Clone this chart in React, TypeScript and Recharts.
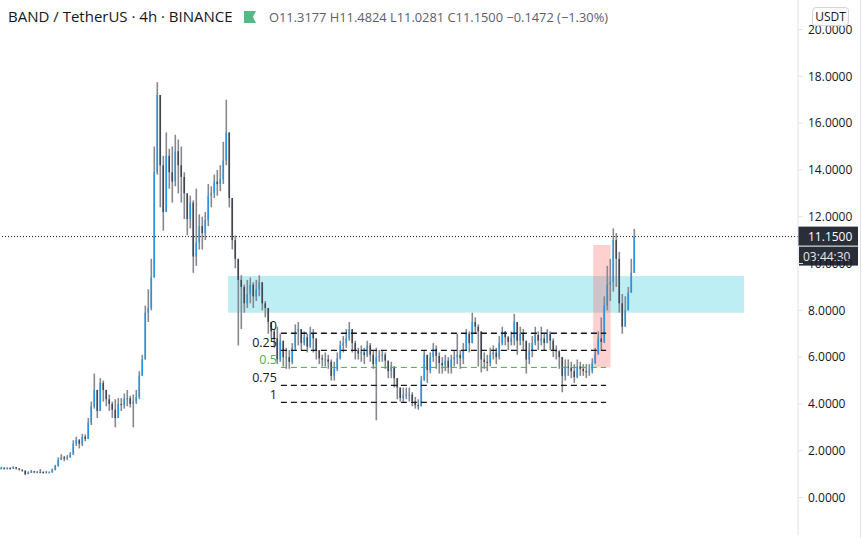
import React from "react"
import {
  ComposedChart, Bar,
  XAxis, YAxis,
  ReferenceArea, ReferenceLine
} from "recharts"

// 4h candles, one every 3px of the picture
const closes = [
  1.27,1.25,1.26,1.24,1.30,1.24,1.20,1.15,1.00,1.06,
  1.12,1.08,1.10,1.09,1.07,1.08,1.08,1.18,1.35,1.62,
  1.72,1.66,1.72,1.85,2.30,2.45,2.30,2.60,2.50,3.20,
  3.90,4.60,3.70,4.90,4.60,4.20,4.00,3.75,3.40,4.00,
  3.95,4.20,4.25,4.00,4.10,4.30,5.20,5.90,7.90,8.10,
  9.40,13.90,17.20,14.20,12.20,14.60,13.90,13.50,14.80,14.20,
  13.70,13.00,11.90,12.60,10.30,10.90,11.60,11.30,11.85,12.90,
  13.00,13.50,13.40,13.60,14.40,15.60,12.80,11.00,10.20,9.30,
  9.00,8.30,8.70,9.10,8.60,8.90,9.20,8.30,8.10,7.50,
  7.10,6.80,5.90,6.70,6.00,6.00,5.80,6.40,7.10,7.20,
  6.60,6.85,6.45,7.00,6.80,6.30,5.95,5.90,5.90,5.80,
  5.20,5.50,5.95,6.50,6.60,6.80,7.20,6.60,6.30,6.15,
  6.20,6.10,6.50,6.10,5.70,6.00,6.05,6.10,5.85,5.40,
  5.60,5.10,4.70,4.25,4.40,4.40,4.40,4.10,3.95,3.90,
  5.00,6.10,5.45,6.00,6.35,6.05,5.75,5.65,5.85,5.55,
  5.90,6.00,6.10,5.95,6.30,7.00,6.60,7.50,7.30,7.10,
  5.90,5.80,5.75,6.10,6.20,6.00,6.60,7.10,6.85,6.65,
  6.80,7.50,6.70,7.00,6.70,5.90,6.30,6.60,6.95,6.70,
  6.80,6.60,7.00,6.70,6.30,6.25,6.00,5.20,5.60,5.55,
  5.40,5.15,5.60,5.50,5.40,5.35,5.40,5.75,6.15,6.80,
  6.65,8.20,9.10,9.20,11.00,10.20,8.30,7.30,8.00,8.75,
  9.60,11.15
]

const highs = [
  1.32,1.30,1.30,1.30,1.34,1.30,1.26,1.20,1.16,1.12,
  1.18,1.14,1.14,1.22,1.12,1.14,1.12,1.24,1.40,1.72,
  1.85,1.78,1.82,1.95,2.45,2.60,2.50,2.72,2.70,3.40,
  4.10,5.30,4.60,5.10,5.00,4.60,4.40,4.10,4.20,4.25,
  4.25,4.45,4.60,4.35,4.40,4.60,5.40,6.10,8.20,8.90,
  10.20,15.00,17.75,15.60,14.60,15.60,14.90,15.00,15.50,15.30,
  15.00,13.90,13.00,12.90,12.70,13.20,12.10,12.00,12.20,13.40,
  13.30,13.80,14.00,14.20,15.20,17.00,14.70,12.80,11.20,10.00,
  9.50,9.10,9.30,9.40,9.20,9.30,9.50,9.20,8.40,8.00,
  7.50,7.20,7.30,7.00,6.60,6.40,6.30,6.60,7.40,7.50,
  7.20,7.10,7.00,7.30,7.20,6.80,6.30,6.10,6.20,6.10,
  5.90,5.80,6.20,6.70,6.90,7.20,7.50,7.10,6.70,6.40,
  6.50,6.40,6.70,6.60,6.30,6.40,6.30,6.30,6.20,5.70,
  5.80,5.60,5.10,4.70,4.70,4.70,4.70,4.50,4.30,4.20,
  5.20,6.30,6.10,6.20,6.60,6.50,6.20,6.00,6.10,6.00,
  6.10,6.30,7.00,6.30,6.60,7.20,7.10,7.90,7.70,7.40,
  7.00,6.20,6.10,6.40,6.50,6.40,6.90,7.30,7.10,6.90,
  7.10,7.85,7.20,7.30,7.20,6.40,6.60,6.90,7.30,7.10,
  7.30,7.00,7.20,7.10,6.80,6.50,6.30,5.90,5.90,5.90,
  5.80,5.70,5.90,5.80,5.70,5.70,5.70,5.95,6.40,7.10,
  7.70,8.60,9.90,10.20,11.50,11.30,10.50,8.70,8.60,9.00,
  10.20,11.48
]

const lows = [
  1.20,1.20,1.20,1.20,1.22,1.20,1.15,1.10,0.96,1.00,
  1.05,1.04,1.04,1.04,1.02,1.04,1.04,1.06,1.16,1.32,
  1.60,1.55,1.60,1.70,1.82,2.20,2.10,2.20,2.40,2.50,
  3.10,3.80,3.40,3.70,4.10,3.90,3.70,3.40,3.00,3.40,
  3.70,3.80,3.90,3.85,3.00,4.00,4.20,5.20,5.90,7.50,
  8.00,9.40,13.80,12.40,11.40,12.20,13.20,12.60,13.30,13.00,
  12.60,11.90,11.20,11.50,9.60,9.90,10.60,10.60,11.00,11.60,
  12.40,12.80,12.90,13.10,13.40,14.20,12.40,10.60,9.80,6.50,
  7.20,7.90,8.10,8.30,8.10,8.40,8.60,8.00,7.70,7.00,
  6.80,6.40,5.70,5.80,5.60,5.50,5.50,5.70,6.30,6.50,
  6.30,6.50,6.20,6.40,6.20,5.90,5.70,5.60,5.60,5.50,
  5.00,5.00,5.40,5.90,6.20,6.40,6.70,6.20,5.90,5.90,
  5.80,5.70,6.00,5.80,5.50,3.30,5.80,5.80,5.50,5.10,
  5.10,4.70,4.20,4.10,4.10,4.20,4.10,3.90,3.80,3.75,
  3.90,5.00,4.90,5.30,5.80,5.50,5.30,5.30,5.40,5.30,
  5.30,5.60,5.70,5.50,5.70,6.30,6.20,6.60,7.00,5.60,
  5.35,5.50,5.40,5.60,5.90,5.70,5.90,6.50,6.50,6.30,
  6.50,6.50,6.10,6.50,6.30,5.30,5.70,6.00,6.50,6.30,
  6.50,6.30,6.60,6.30,6.00,5.90,5.50,4.50,5.00,5.20,
  5.10,4.90,5.10,5.20,5.20,5.10,5.20,5.30,5.70,6.10,
  6.30,6.60,8.00,8.40,8.80,9.00,7.90,7.00,7.40,8.30,
  8.90,9.70
]

const priceTicks = [0, 2, 4, 6, 8, 10, 12, 14, 16, 18, 20]
const timeTicks = [11.7, 42.7, 73.3, 103.7, 134.3, 164.3, 195.3, 226.3, 254.3]
const fibLevels = [
  { name: "0", price: 7.02, color: "#131722" },
  { name: "0.25", price: 6.29, color: "#131722" },
  { name: "0.5", price: 5.56, color: "#4caf50" },
  { name: "0.75", price: 4.79, color: "#131722" },
  { name: "1", price: 4.07, color: "#131722" }
]
const lastPrice = 11.15

const UP = "#1e96ec"
const DOWN = "#3c3f4a"
const WICK = "#85888f"
const FONT = "'Open Sans', 'Noto Sans', sans-serif"

const candles = closes.map((close, i) => {
  const open = i === 0 ? close : closes[i - 1]
  return {
    i,
    open,
    close,
    wick: [Math.min(lows[i], open, close), Math.max(highs[i], open, close)],
    body: [Math.min(open, close), Math.max(open, close)]
  }
})

function CandleBody(props: any) {
  const { x, y, width, height, payload } = props
  return <rect x={x} y={y} width={width} height={Math.max(height, 1)} fill={payload.close >= payload.open ? UP : DOWN} />
}

function FibLabel({ viewBox, text, color }: any) {
  return (
    <text x={viewBox.x - 4} y={viewBox.y - 3} textAnchor="end" fontSize={12.5} fontFamily={FONT} fill={color}>
      {text}
    </text>
  )
}

function PriceTags({ viewBox }: any) {
  const y = viewBox.y
  return (
    <g fontFamily={FONT} fontSize={12}>
      <rect x={798} y={y - 10} width={60} height={19} fill="#2a2e39" />
      <text x={808} y={y + 4} fill="#fff">{lastPrice.toFixed(4)}</text>
      <rect x={799} y={y + 10} width={59} height={19} fill="#2a2e39" />
      <text x={803} y={y + 24} fill="#e8e8ea">03:44:30</text>
    </g>
  )
}

export default function App() {
  return (
    <div style={{ position: "fixed", left: 0, top: 0, width: 862, height: 538, background: "#fff", overflow: "hidden" }}>
      <ComposedChart width={862} height={538} data={candles} margin={{ top: 0, right: 0, bottom: 0, left: 0 }}>
        <XAxis
          xAxisId="wick"
          dataKey="i"
          type="number"
          domain={[-1 / 3, 266 - 1 / 3]}
          allowDataOverflow
          ticks={timeTicks}
          tick={false}
          tickSize={3}
          height={3}
          stroke="#e0e3eb"
        />
        <XAxis xAxisId="body" dataKey="i" type="number" domain={[-1 / 3, 266 - 1 / 3]} allowDataOverflow hide />
        <YAxis
          yAxisId="price"
          orientation="right"
          width={64}
          domain={[-1.6, 21.26]}
          allowDataOverflow
          ticks={priceTicks}
          interval={0}
          tickFormatter={(v: number) => v.toFixed(4)}
          tick={{ fill: "#131722", fontSize: 12, fontFamily: FONT }}
          tickSize={5}
          tickMargin={5}
          stroke="#e0e3eb"
        />

        <ReferenceArea xAxisId="wick" yAxisId="price" x1={75.7} x2={247.7} y1={7.9} y2={9.47} fill="#b2ebf2" fillOpacity={0.85} stroke="none" />
        <ReferenceArea xAxisId="wick" yAxisId="price" x1={197.4} x2={203.2} y1={5.56} y2={10.79} fill="#ff5252" fillOpacity={0.27} stroke="none" />

        {fibLevels.map(level => (
          <ReferenceLine
            key={level.name}
            xAxisId="wick"
            yAxisId="price"
            segment={[{ x: 93.3, y: level.price }, { x: 201.7, y: level.price }]}
            stroke={level.color}
            strokeWidth={level.name === "0.5" ? 1 : 1.3}
            strokeDasharray="6 4"
            label={<FibLabel text={level.name} color={level.color} />}
          />
        ))}

        <Bar xAxisId="wick" yAxisId="price" dataKey="wick" barSize={1.6} fill={WICK} isAnimationActive={false} />
        <Bar xAxisId="body" yAxisId="price" dataKey="body" barSize={1.4} shape={<CandleBody />} isAnimationActive={false} />

        <ReferenceLine
          xAxisId="wick"
          yAxisId="price"
          y={lastPrice}
          stroke="#131722"
          strokeDasharray="1 2"
          label={<PriceTags />}
        />
      </ComposedChart>

      <div style={{ position: "absolute", left: 860, top: 0, width: 1, height: 538, background: "#e0e3eb" }} />

      <div style={{ position: "absolute", left: 812, top: 7, width: 35, height: 17, border: "1px solid #d1d4dc", borderRadius: 4, background: "#fff", color: "#131722", font: `12px ${FONT}`, lineHeight: "17px", textAlign: "center" }}>
        USDT
      </div>

      <div style={{ position: "absolute", left: 8, top: 6, color: "#131722", font: `15px ${FONT}`, lineHeight: "20px", whiteSpace: "nowrap" }}>
        BAND / TetherUS · 4h · BINANCE
      </div>
      <svg style={{ position: "absolute", left: 244, top: 11 }} width={13} height={12}>
        <path d="M0 0H12L9 6L12 12H0Z" fill="#53b987" />
      </svg>
      <div style={{ position: "absolute", left: 269, top: 8, color: "#5d606b", font: `12.85px ${FONT}`, lineHeight: "18px", whiteSpace: "nowrap" }}>
        O11.3177 H11.4824 L11.0281 C11.1500 −0.1472 (−1.30%)
      </div>
    </div>
  )
}
